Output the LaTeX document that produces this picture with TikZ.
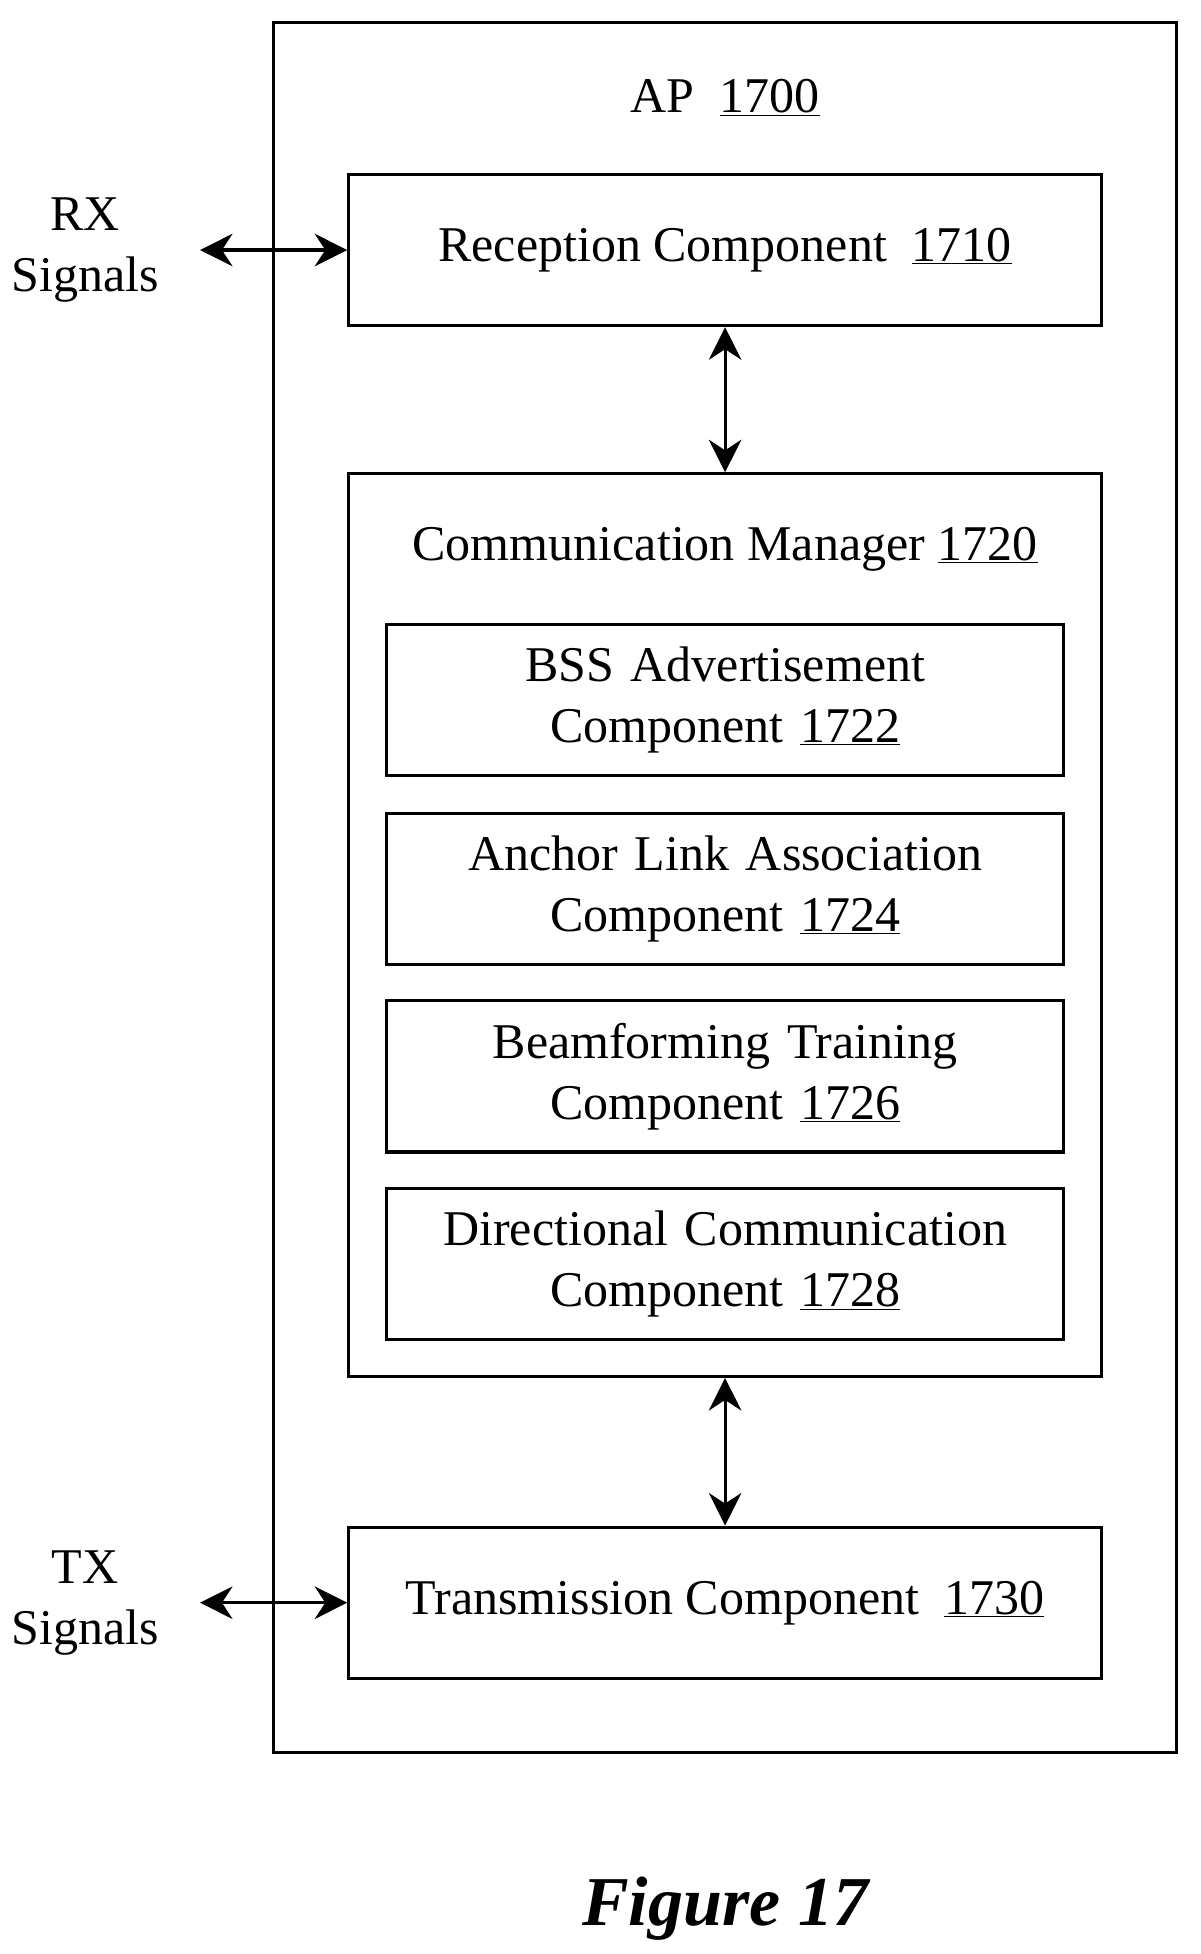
\documentclass[tikz,border=0pt]{standalone}
\usepackage{fontspec}
\setmainfont{Liberation Serif}
\usetikzlibrary{arrows.meta, positioning}
\begin{document}
\begin{tikzpicture}[x=1pt,y=-1pt]
\tikzstyle{block} = [rectangle, draw=black, line width=2.5pt, inner sep=0pt, minimum width=602pt, minimum height=121pt, text centered, font=\fontsize{40}{49}\selectfont]
\tikzstyle{sub} = [block, minimum width=542pt, text width=530pt]
\tikzstyle{lbl} = [font=\fontsize{40}{49}\selectfont, align=center]
\tikzstyle{arrow} = [line width=2.5pt, {Stealth[length=26pt,width=26pt]}-{Stealth[length=26pt,width=26pt]}]
\useasboundingbox (0,0) rectangle (960,1563);

\node (ap) [draw=black, line width=2.5pt, minimum width=722pt, minimum height=1384pt] at (580,710) {};
\node (aptitle) [lbl] at (580,78) {AP \ \underline{1700}};
\node (rx) [block] at (580,200) {Reception Component \ \underline{1710}};
\node (cm) [block, minimum height=722pt] at (580,740) {};
\node (cmtitle) [lbl] at (580,439) {Communication Manager \underline{1720}};
\node (bss) [sub] at (580,560) {BSS Advertisement\\Component \underline{1722}};
\node (anchor) [sub] at (580,711) {Anchor Link Association\\Component \underline{1724}};
\node (beam) [sub] at (580,861) {Beamforming Training\\Component \underline{1726}};
\node (dir) [sub] at (580,1011) {Directional Communication\\Component \underline{1728}};
\node (tx) [block] at (580,1282) {Transmission Component \ \underline{1730}};
\node (rxsig) [lbl] at (68,200) {RX\\Signals};
\node (txsig) [lbl] at (68,1282) {TX\\Signals};
\node (fig) [font=\fontsize{56}{62}\selectfont\bfseries\itshape] at (580,1527) {Figure 17};
\coordinate (rxend) at (160,200);
\coordinate (txend) at (160,1282);

\draw [arrow] (rxend) -- (rx.west);
\draw [arrow] (txend) -- (tx.west);
\draw [arrow] (rx.south) -- (cm.north);
\draw [arrow] (cm.south) -- (tx.north);
\end{tikzpicture}
\end{document}
